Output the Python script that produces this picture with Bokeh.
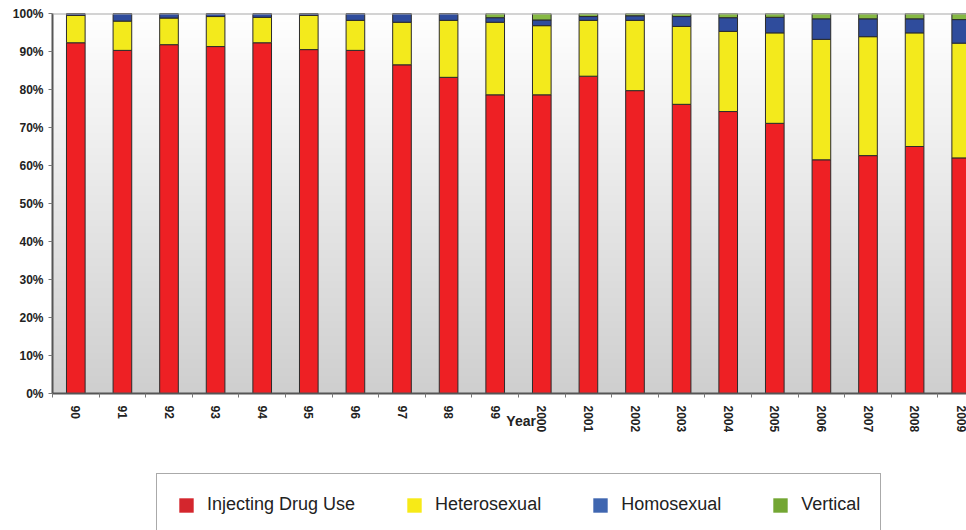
import numpy as np
from bokeh.plotting import figure
from bokeh.layouts import column
from bokeh.models import (Range1d, FixedTicker, PrintfTickFormatter, Legend, LegendItem,
                          Span, LinearColorMapper, ColumnDataSource)
from bokeh.embed import file_html
from bokeh.resources import INLINE

# ---- data (percent of cases by transmission route) ----
years = ["90", "91", "92", "93", "94", "95", "96", "97", "98", "99",
         "2000", "2001", "2002", "2003", "2004", "2005", "2006", "2007", "2008", "2009"]
idu = [92.3, 90.3, 91.8, 91.3, 92.3, 90.5, 90.3, 86.5, 83.2, 78.6,
       78.6, 83.5, 79.7, 76.1, 74.2, 71.1, 61.5, 62.6, 65.0, 62.0]
hetero = [7.2, 7.7, 7.0, 7.9, 6.7, 9.0, 7.9, 11.2, 15.0, 19.1,
          18.2, 14.7, 18.5, 20.5, 21.1, 23.8, 31.7, 31.3, 29.9, 30.2]
homo = [0.5, 2.0, 1.2, 0.8, 1.0, 0.5, 1.8, 2.3, 1.8, 1.2,
        1.5, 1.0, 1.2, 2.6, 3.6, 4.1, 5.4, 4.7, 3.7, 6.2]
vertical = [0.0, 0.0, 0.0, 0.0, 0.0, 0.0, 0.0, 0.0, 0.0, 1.1,
            1.7, 0.8, 0.6, 0.8, 1.1, 1.0, 1.4, 1.4, 1.4, 1.6]
series_names = ["Injecting Drug Use", "Heterosexual", "Homosexual", "Vertical"]
y_ticks = list(range(0, 101, 10))
x_title = "Year"

# ---- styles ----
bar_colors = ["#ee2024", "#f3ea1c", "#2f4c9c", "#86b944"]
legend_colors = ["#d4262d", "#f7ea17", "#3f66b0", "#73a633"]
FONT = "Liberation Sans"
CAT_PX = 46.6
FRAME_W = 966 - 52
x_end = FRAME_W / CAT_PX
cols = ["idu", "hetero", "homo", "vertical"]

xpos = [i + 0.5 for i in range(len(years))]
src = ColumnDataSource(dict(x=xpos, idu=idu, hetero=hetero, homo=homo, vertical=vertical))

p = figure(width=966, height=470, output_backend="svg", toolbar_location=None,
           x_range=Range1d(0, x_end), y_range=Range1d(0, 100),
           min_border_left=52, min_border_right=0, min_border_top=13, min_border_bottom=77)
p.outline_line_color = None
p.grid.visible = False

# gradient background of plot area
grad = np.linspace(0, 1, 200).reshape(200, 1)
palette = ["#%02x%02x%02x" % (v, v, v) for v in np.linspace(0xcf, 0xff, 256).astype(int)]
mapper = LinearColorMapper(palette=palette, low=0, high=1)
p.image(image=[grad], x=0, y=0, dw=x_end, dh=100, color_mapper=mapper)

p.vbar_stack(cols, x="x", width=0.4, source=src,
             fill_color=bar_colors, line_color="#2b2b2b", line_width=1)

p.add_layout(Span(location=100, dimension="width", line_color="#a8a8a8", line_width=2))

# axes
xa = p.xaxis[0]
xa.ticker = FixedTicker(ticks=xpos, minor_ticks=list(range(0, len(years) + 1)))
xa.major_label_overrides = {float(xv): lab for xv, lab in zip(xpos, years)}
xa.major_label_orientation = -np.pi / 2
xa.major_tick_out = 0
xa.major_tick_in = 0
xa.minor_tick_out = 4
xa.minor_tick_in = 0
xa.minor_tick_line_color = "#777777"
xa.major_label_standoff = 8
xa.major_label_text_font = FONT
xa.major_label_text_font_size = "12px"
xa.major_label_text_font_style = "bold"
xa.major_label_text_color = "#222222"
xa.axis_line_color = "#555555"
xa.axis_line_width = 2
xa.axis_label = "\u00a0" * 6 + x_title
xa.axis_label_standoff = -22
xa.axis_label_text_font = FONT
xa.axis_label_text_font_size = "14px"
xa.axis_label_text_font_style = "bold"
xa.axis_label_text_color = "#222222"

ya = p.yaxis[0]
ya.ticker = FixedTicker(ticks=y_ticks)
ya.formatter = PrintfTickFormatter(format="%d%%")
ya.major_tick_out = 4
ya.major_tick_in = 0
ya.minor_tick_out = 0
ya.minor_tick_in = 0
ya.major_tick_line_color = "#777777"
ya.major_label_standoff = 5
ya.major_label_text_font = FONT
ya.major_label_text_font_size = "12px"
ya.major_label_text_font_style = "bold"
ya.major_label_text_color = "#222222"
ya.axis_line_color = "#555555"
ya.axis_line_width = 2

# legend panel (a second, axis-less figure below the chart); its swatch renderers
# use the same data but lie outside this panel's ranges, so only the legend shows
p2 = figure(width=966, height=60, output_backend="svg", toolbar_location=None,
            x_range=Range1d(-1000, -999), y_range=Range1d(0, 1), min_border=0)
p2.axis.visible = False
p2.grid.visible = False
p2.outline_line_color = None
swatches = p2.vbar_stack(cols, x="x", width=0.4, source=src,
                         fill_color=legend_colors, line_color=None)
legend = Legend(items=[LegendItem(label=n, renderers=[r]) for n, r in zip(series_names, swatches)],
                orientation="horizontal", location=(104, -6),
                glyph_width=18, glyph_height=18, label_standoff=12, spacing=50,
                padding=20, margin=0,
                border_line_color="#555555", border_line_width=1,
                background_fill_color="white", background_fill_alpha=1,
                label_text_font=FONT, label_text_font_size="18px", label_text_color="#222222")
p2.add_layout(legend, "center")

open("out.html", "w").write(file_html(column(p, p2, spacing=0), INLINE))
